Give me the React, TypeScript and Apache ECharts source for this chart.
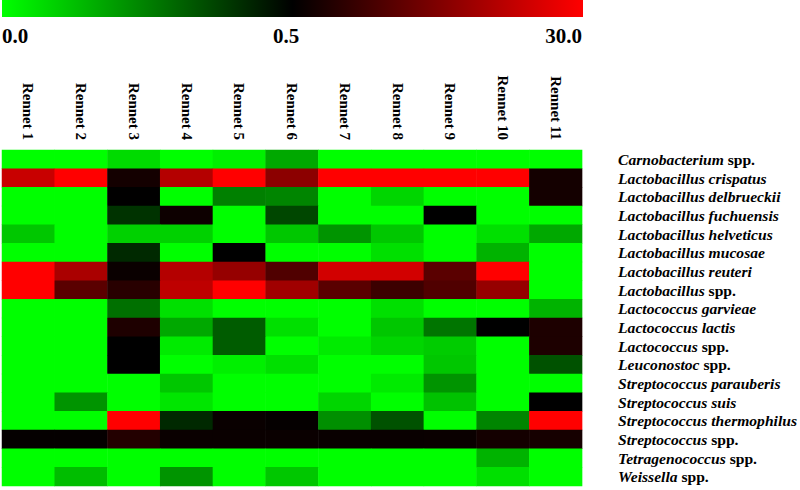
import React, { useEffect, useRef } from "react";
import * as echarts from "echarts";

const rennets = ["Rennet 1", "Rennet 2", "Rennet 3", "Rennet 4", "Rennet 5", "Rennet 6", "Rennet 7", "Rennet 8", "Rennet 9", "Rennet 10", "Rennet 11"];

const taxa = [
  "Carnobacterium spp.",
  "Lactobacillus crispatus",
  "Lactobacillus delbrueckii",
  "Lactobacillus fuchuensis",
  "Lactobacillus helveticus",
  "Lactobacillus mucosae",
  "Lactobacillus reuteri",
  "Lactobacillus spp.",
  "Lactococcus garvieae",
  "Lactococcus lactis",
  "Lactococcus spp.",
  "Leuconostoc spp.",
  "Streptococcus parauberis",
  "Streptococcus suis",
  "Streptococcus thermophilus",
  "Streptococcus spp.",
  "Tetragenococcus spp.",
  "Weissella spp.",
];

// relative abundance values (%) per taxon, columns Rennet 1..11
const carnobacterium = [0, 0, 0.07, 0, 0.03, 0.17, 0, 0, 0, 0, 0];
const lbCrispatus = [23.6, 30, 2.8, 21.3, 30, 16.7, 30, 30, 30, 30, 2.8];
const lbDelbrueckii = [0, 0, 0.6, 0, 0.25, 0.24, 0, 0.08, 0, 0, 2.8];
const lbFuchuensis = [0, 0, 0.4, 2.0, 0, 0.36, 0, 0, 0.5, 0, 0];
const lbHelveticus = [0.11, 0, 0.09, 0.09, 0, 0.11, 0.21, 0.11, 0, 0.06, 0.17];
const lbMucosae = [0, 0, 0.42, 0, 0.5, 0, 0, 0.06, 0, 0.15, 0];
const lbReuteri = [30, 20.2, 1.7, 21.3, 17.9, 9.8, 24.8, 24.8, 10.9, 30, 0];
const lbSpp = [30, 10.9, 5.1, 22.5, 30, 19.0, 10.9, 7.4, 9.8, 17.9, 0];
const lcGarvieae = [0, 0, 0.28, 0.06, 0, 0, 0, 0.06, 0, 0, 0.15];
const lcLactis = [0, 0, 4.0, 0.17, 0.32, 0.06, 0, 0.11, 0.27, 0.5, 3.8];
const lcSpp = [0, 0, 0.5, 0.04, 0.32, 0, 0.04, 0.08, 0.1, 0, 3.8];
const leuconostoc = [0, 0, 0.5, 0, 0.03, 0.06, 0, 0, 0.11, 0, 0.34];
const stParauberis = [0, 0, 0, 0.11, 0, 0, 0, 0.04, 0.21, 0, 0];
const stSuis = [0, 0.21, 0, 0.05, 0, 0, 0.08, 0, 0.12, 0, 0.5];
const stThermophilus = [0, 0, 30, 0.42, 1.5, 1.1, 0.22, 0.34, 0, 0.24, 30];
const stSpp = [1.1, 1.1, 4.5, 1.7, 1.7, 1.7, 1.5, 1.5, 1.7, 2.8, 3.0];
const tetragenococcus = [0, 0, 0, 0, 0, 0, 0, 0, 0, 0.15, 0];
const weissella = [0, 0.13, 0, 0.21, 0, 0.11, 0, 0, 0, 0.06, 0];

const values = [
  carnobacterium, lbCrispatus, lbDelbrueckii, lbFuchuensis, lbHelveticus, lbMucosae,
  lbReuteri, lbSpp, lcGarvieae, lcLactis, lcSpp, leuconostoc, stParauberis, stSuis,
  stThermophilus, stSpp, tetragenococcus, weissella,
];

const scaleTicks = ["0.0", "0.5", "30.0"];
const scaleMin = 0;
const scaleMid = 0.5;
const scaleMax = 30;

// position on the colour bar (0..1): 0..0.5 maps to first half, 0.5..30 to second half
const toScale = (v: number) =>
  v <= scaleMid ? (v - scaleMin) / (scaleMid - scaleMin) * 0.5 : 0.5 + (v - scaleMid) / (scaleMax - scaleMid) * 0.5;

const FONT = "'Liberation Serif', 'Times New Roman', serif";

export default function App() {
  const ref = useRef<HTMLDivElement>(null);
  useEffect(() => {
    if (!ref.current) return;
    const chart = echarts.init(ref.current, undefined, { renderer: "svg" });
    const data: any[] = [];
    values.forEach((row, y) => {
      row.forEach((v, x) => {
        data.push([x, y, v, toScale(v)]);
      });
    });
    const gridLeft = 2;
    const gridRight = 583;
    chart.setOption({
      animation: false,
      backgroundColor: "#ffffff",
      grid: { left: gridLeft, top: 150, width: gridRight - gridLeft, height: 336 },
      xAxis: {
        type: "category",
        position: "top",
        data: rennets,
        axisLine: { show: false },
        axisTick: { show: false },
        splitArea: { show: false },
        axisLabel: {
          rotate: 90,
          margin: 10,
          fontFamily: FONT,
          fontWeight: "bold",
          fontSize: 15,
          color: "#000",
          interval: 0,
        },
      },
      yAxis: {
        type: "category",
        position: "right",
        inverse: true,
        data: taxa,
        axisLine: { show: false },
        axisTick: { show: false },
        splitArea: { show: false },
        axisLabel: {
          margin: 36,
          interval: 0,
          color: "#000",
          formatter: (v: string) =>
            v.endsWith(" spp.") ? `{i|${v.slice(0, -5)}}{n| spp.}` : `{i|${v}}`,
          rich: {
            i: { fontFamily: FONT, fontWeight: "bold", fontStyle: "italic", fontSize: 15.6, color: "#000" },
            n: { fontFamily: FONT, fontWeight: "bold", fontSize: 15.6, color: "#000" },
          },
        },
      },
      visualMap: {
        type: "continuous",
        show: false,
        dimension: 3,
        min: 0,
        max: 1,
        inRange: { color: ["#00ff00", "#000000", "#ff0000"] },
      },
      graphic: [
        {
          type: "rect",
          shape: { x: gridLeft, y: 0, width: gridRight - gridLeft, height: 17 },
          style: {
            fill: new echarts.graphic.LinearGradient(0, 0, 1, 0, [
              { offset: 0, color: "#00ff00" },
              { offset: 0.5, color: "#000000" },
              { offset: 1, color: "#ff0000" },
            ]),
          },
          silent: true,
        },
        {
          type: "text",
          x: 2,
          y: 35.5,
          style: { text: scaleTicks[0], font: `bold 21px ${FONT}`, fill: "#000", align: "left", verticalAlign: "middle" },
        },
        {
          type: "text",
          x: 286,
          y: 35.5,
          style: { text: scaleTicks[1], font: `bold 21px ${FONT}`, fill: "#000", align: "center", verticalAlign: "middle" },
        },
        {
          type: "text",
          x: 582,
          y: 35.5,
          style: { text: scaleTicks[2], font: `bold 21px ${FONT}`, fill: "#000", align: "right", verticalAlign: "middle" },
        },
      ],
      series: [
        {
          type: "heatmap",
          data,
          silent: true,
          itemStyle: { borderWidth: 0 },
          emphasis: { disabled: true },
        },
      ],
    });
    return () => chart.dispose();
  }, []);
  return <div ref={ref} style={{ position: "fixed", left: 0, top: 0, width: 800, height: 490 }} />;
}
